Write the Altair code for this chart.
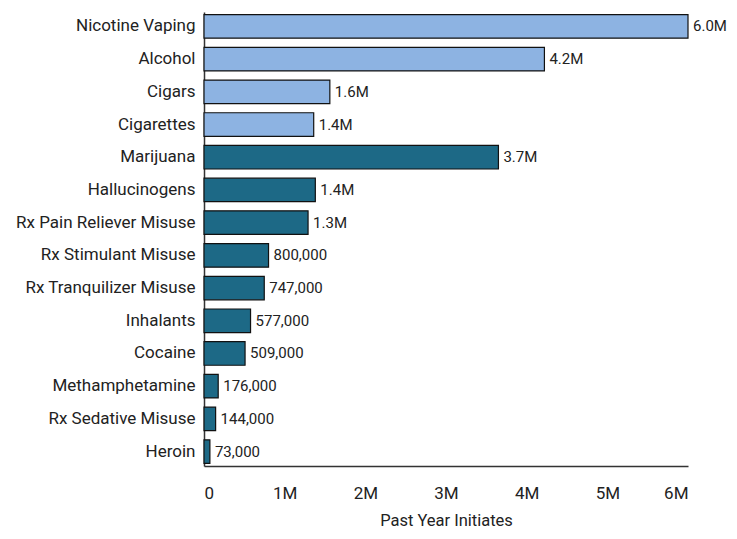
import altair as alt
import pandas as pd

categories = ["Nicotine Vaping", "Alcohol", "Cigars", "Cigarettes", "Marijuana",
              "Hallucinogens", "Rx Pain Reliever Misuse", "Rx Stimulant Misuse",
              "Rx Tranquilizer Misuse", "Inhalants", "Cocaine", "Methamphetamine",
              "Rx Sedative Misuse", "Heroin"]
values = [6000000, 4220000, 1560000, 1360000, 3650000, 1380000, 1290000,
          800000, 747000, 577000, 509000, 176000, 144000, 73000]
labels = ["6.0M", "4.2M", "1.6M", "1.4M", "3.7M", "1.4M", "1.3M",
          "800,000", "747,000", "577,000", "509,000", "176,000", "144,000", "73,000"]
groups = ["Tobacco/Alcohol"] * 4 + ["Drugs"] * 10

df = pd.DataFrame({"cat": categories, "val": values, "lab": labels, "grp": groups})

FONT = "Roboto"

base = alt.Chart(df).encode(
    y=alt.Y("cat:N", sort=categories, title=None,
            scale=alt.Scale(paddingInner=0.28, paddingOuter=0.08),
            axis=alt.Axis(ticks=False, labelFontSize=17, labelFont=FONT,
                          labelColor="#222", labelPadding=9, domainColor="#333",
                          domainWidth=1.5)),
)

bars = base.mark_bar(stroke="#111", strokeWidth=1.2).encode(
    x=alt.X("val:Q", title="Past Year Initiates",
            scale=alt.Scale(domain=[0, 6000000], nice=False),
            axis=alt.Axis(values=[0, 1000000, 2000000, 3000000, 4000000, 5000000, 6000000],
                          labelExpr="datum.value == 0 ? '0' : (datum.value/1000000) + 'M'",
                          ticks=False, grid=False, labelFontSize=17, labelFont=FONT,
                          labelColor="#222", labelPadding=19, titleFontSize=16.5,
                          titleFont=FONT, titleFontWeight="normal", titleColor="#222",
                          titlePadding=11, domainColor="#333", domainWidth=1.5)),
    color=alt.Color("grp:N", scale=alt.Scale(domain=["Tobacco/Alcohol", "Drugs"],
                                             range=["#8db3e2", "#1d6986"]), legend=None),
)

text = base.mark_text(align="left", baseline="middle", dx=5, fontSize=15,
                      font=FONT, color="#222").encode(
    x="val:Q", text="lab:N")

chart = (bars + text).properties(
    width=484, height=454,
    autosize=alt.AutoSizeParams(type="none"),
    padding={"left": 196, "top": 4, "right": 41, "bottom": 65},
).configure_view(stroke=None, strokeWidth=0)

chart.save("out.html", embed_options={"renderer": "svg", "actions": False})
